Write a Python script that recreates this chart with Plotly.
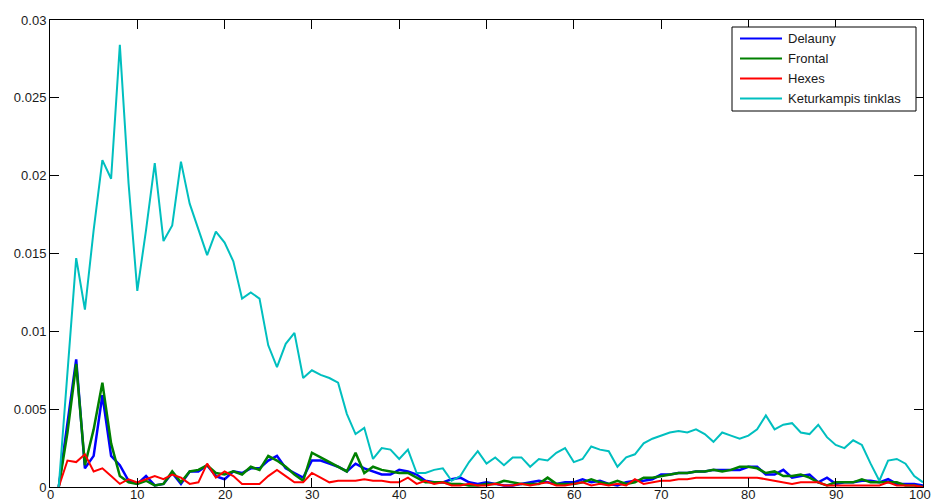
import plotly.graph_objects as go

# Bin index along the horizontal axis
x_bins = list(range(1, 101))

delauny = [
    0.0000, 0.0041, 0.0082, 0.0012, 0.0020, 0.0059, 0.0020, 0.0014, 0.0004, 0.0002,
    0.0007, 0.0001, 0.0002, 0.0009, 0.0002, 0.0010, 0.0010, 0.0014, 0.0007, 0.0005,
    0.0010, 0.0009, 0.0012, 0.0012, 0.0017, 0.0020, 0.0012, 0.0009, 0.0006, 0.0017,
    0.0017, 0.0015, 0.0013, 0.0010, 0.0015, 0.0012, 0.0010, 0.0008, 0.0008, 0.0011,
    0.0010, 0.0008, 0.0004, 0.0003, 0.0003, 0.0005, 0.0006, 0.0003, 0.0002, 0.0003,
    0.0002, 0.0001, 0.0001, 0.0002, 0.0003, 0.0004, 0.0003, 0.0002, 0.0003, 0.0003,
    0.0005, 0.0003, 0.0004, 0.0002, 0.0001, 0.0003, 0.0004, 0.0004, 0.0005, 0.0008,
    0.0008, 0.0009, 0.0009, 0.0010, 0.0010, 0.0011, 0.0011, 0.0011, 0.0011, 0.0013,
    0.0013, 0.0008, 0.0008, 0.0011, 0.0006, 0.0007, 0.0008, 0.0003, 0.0006, 0.0002,
    0.0003, 0.0003, 0.0004, 0.0004, 0.0003, 0.0005, 0.0002, 0.0002, 0.0002, 0.0001,
]

frontal = [
    0.0000, 0.0035, 0.0079, 0.0014, 0.0037, 0.0067, 0.0028, 0.0007, 0.0003, 0.0002,
    0.0004, 0.0001, 0.0002, 0.0010, 0.0003, 0.0010, 0.0011, 0.0014, 0.0009, 0.0008,
    0.0010, 0.0008, 0.0013, 0.0011, 0.0020, 0.0017, 0.0013, 0.0008, 0.0004, 0.0022,
    0.0019, 0.0016, 0.0013, 0.0010, 0.0022, 0.0009, 0.0013, 0.0011, 0.0010, 0.0009,
    0.0009, 0.0006, 0.0003, 0.0003, 0.0003, 0.0002, 0.0002, 0.0001, 0.0001, 0.0002,
    0.0002, 0.0004, 0.0003, 0.0002, 0.0002, 0.0002, 0.0006, 0.0002, 0.0002, 0.0002,
    0.0003, 0.0005, 0.0003, 0.0002, 0.0004, 0.0002, 0.0003, 0.0006, 0.0006, 0.0007,
    0.0008, 0.0009, 0.0009, 0.0010, 0.0010, 0.0011, 0.0010, 0.0011, 0.0013, 0.0013,
    0.0012, 0.0009, 0.0010, 0.0007, 0.0007, 0.0008, 0.0006, 0.0003, 0.0001, 0.0003,
    0.0003, 0.0003, 0.0005, 0.0003, 0.0003, 0.0003, 0.0003, 0.0001, 0.0001, 0.0000,
]

hexes = [
    0.0000, 0.0017, 0.0016, 0.0021, 0.0010, 0.0012, 0.0007, 0.0002, 0.0005, 0.0003,
    0.0005, 0.0007, 0.0005, 0.0008, 0.0006, 0.0002, 0.0003, 0.0015, 0.0006, 0.0010,
    0.0007, 0.0002, 0.0002, 0.0002, 0.0007, 0.0011, 0.0007, 0.0003, 0.0003, 0.0009,
    0.0006, 0.0003, 0.0004, 0.0004, 0.0004, 0.0005, 0.0004, 0.0004, 0.0003, 0.0003,
    0.0006, 0.0002, 0.0004, 0.0002, 0.0003, 0.0001, 0.0001, 0.0002, 0.0001, 0.0001,
    0.0002, 0.0001, 0.0001, 0.0002, 0.0001, 0.0002, 0.0003, 0.0001, 0.0001, 0.0002,
    0.0003, 0.0001, 0.0002, 0.0001, 0.0002, 0.0001, 0.0005, 0.0002, 0.0003, 0.0004,
    0.0004, 0.0005, 0.0005, 0.0006, 0.0006, 0.0006, 0.0006, 0.0006, 0.0006, 0.0006,
    0.0006, 0.0005, 0.0004, 0.0003, 0.0002, 0.0003, 0.0003, 0.0003, 0.0001, 0.0001,
    0.0001, 0.0001, 0.0001, 0.0001, 0.0001, 0.0003, 0.0001, 0.0001, 0.0001, 0.0000,
]

keturkampis = [
    0.0000, 0.0074, 0.0147, 0.0114, 0.0165, 0.0210, 0.0198, 0.0284, 0.0195, 0.0126,
    0.0165, 0.0208, 0.0158, 0.0168, 0.0209, 0.0182, 0.0165, 0.0149, 0.0164, 0.0157,
    0.0145, 0.0121, 0.0125, 0.0121, 0.0091, 0.0077, 0.0092, 0.0099, 0.0070, 0.0075,
    0.0072, 0.0070, 0.0067, 0.0047, 0.0034, 0.0038, 0.0018, 0.0025, 0.0024, 0.0018,
    0.0024, 0.0009, 0.0009, 0.0011, 0.0012, 0.0004, 0.0007, 0.0016, 0.0023, 0.0015,
    0.0019, 0.0014, 0.0019, 0.0019, 0.0013, 0.0018, 0.0017, 0.0022, 0.0025, 0.0016,
    0.0018, 0.0026, 0.0024, 0.0023, 0.0013, 0.0019, 0.0021, 0.0028, 0.0031, 0.0033,
    0.0035, 0.0036, 0.0035, 0.0037, 0.0034, 0.0029, 0.0035, 0.0033, 0.0031, 0.0033,
    0.0037, 0.0046, 0.0037, 0.0040, 0.0041, 0.0035, 0.0034, 0.0040, 0.0032, 0.0027,
    0.0025, 0.0030, 0.0027, 0.0015, 0.0004, 0.0017, 0.0018, 0.0015, 0.0007, 0.0003,
]

series_names = ["Delauny", "Frontal", "Hexes", "Keturkampis tinklas"]
series_values = [delauny, frontal, hexes, keturkampis]
series_colors = ["#0000FF", "#008000", "#FF0000", "#00BFBF"]
series_widths = [2.5, 2.5, 2, 2]

x_ticks = list(range(0, 101, 10))
x_tick_text = [str(v) for v in x_ticks]
y_ticks = [0, 0.005, 0.01, 0.015, 0.02, 0.025, 0.03]
y_tick_text = ["0", "0.005", "0.01", "0.015", "0.02", "0.025", "0.03"]

FONT = "Liberation Sans, Arial, sans-serif"
TEXT_COLOR = "#1a1a1a"
W, H = 932, 504
PLOT_L, PLOT_R, PLOT_T, PLOT_B = 50, 923, 20, 487


def px_x(p):
    """Horizontal pixel -> paper fraction."""
    return (p - PLOT_L) / (PLOT_R - PLOT_L)


def px_y(p):
    """Vertical pixel -> paper fraction."""
    return (PLOT_B - p) / (PLOT_B - PLOT_T)


fig = go.Figure()
for name, values, color, width in zip(series_names, series_values, series_colors, series_widths):
    fig.add_trace(go.Scatter(
        x=x_bins, y=values, mode="lines", name=name,
        line=dict(color=color, width=width),
        showlegend=False,
    ))

axis_common = dict(
    showgrid=False, zeroline=False, automargin=False,
    showline=True, linecolor="#000000", linewidth=1, mirror="allticks",
    ticks="inside", ticklen=9, tickwidth=1, tickcolor="#000000",
    tickfont=dict(family=FONT, size=13, color=TEXT_COLOR),
    ticklabeloverflow="allow",
)

# Boxed legend in the upper-right corner of the axes
shapes = [dict(
    type="rect", xref="paper", yref="paper",
    x0=px_x(732), x1=px_x(916), y0=px_y(111), y1=px_y(27),
    line=dict(color="#000000", width=1), fillcolor="#FFFFFF", layer="above",
)]
annotations = []
for i, (name, color) in enumerate(zip(series_names, series_colors)):
    row_y = 38.5 + 20 * i
    shapes.append(dict(
        type="line", xref="paper", yref="paper",
        x0=px_x(740), x1=px_x(782), y0=px_y(row_y), y1=px_y(row_y),
        line=dict(color=color, width=2), layer="above",
    ))
    annotations.append(dict(
        xref="paper", yref="paper", x=px_x(786), y=px_y(row_y),
        xanchor="left", yanchor="middle", showarrow=False,
        text=name, font=dict(family=FONT, size=13, color=TEXT_COLOR),
    ))

# Bottom axis labels sit tight under the frame; the last one is nudged
# left so it stays inside the page
for v, label in zip(x_ticks, x_tick_text):
    annotations.append(dict(
        xref="x", yref="paper", x=v, y=0,
        xanchor="center", yanchor="top", showarrow=False,
        borderpad=0, borderwidth=0, yshift=0,
        xshift=-3 if v == x_ticks[-1] else 0,
        text=label, font=dict(family=FONT, size=13, color=TEXT_COLOR),
    ))

fig.update_layout(
    width=W, height=H,
    margin=dict(l=PLOT_L, r=W - PLOT_R, t=PLOT_T, b=H - PLOT_B, pad=0),
    paper_bgcolor="#FFFFFF", plot_bgcolor="#FFFFFF",
    font=dict(family=FONT, size=13, color="#000000"),
    xaxis=dict(range=[0, 100], tickvals=x_ticks, showticklabels=False, **axis_common),
    yaxis=dict(range=[0, 0.03], tickvals=y_ticks, ticktext=y_tick_text, **axis_common),
    shapes=shapes,
    annotations=annotations,
    showlegend=False,
)

fig.write_html("out.html", config={"displayModeBar": False})
